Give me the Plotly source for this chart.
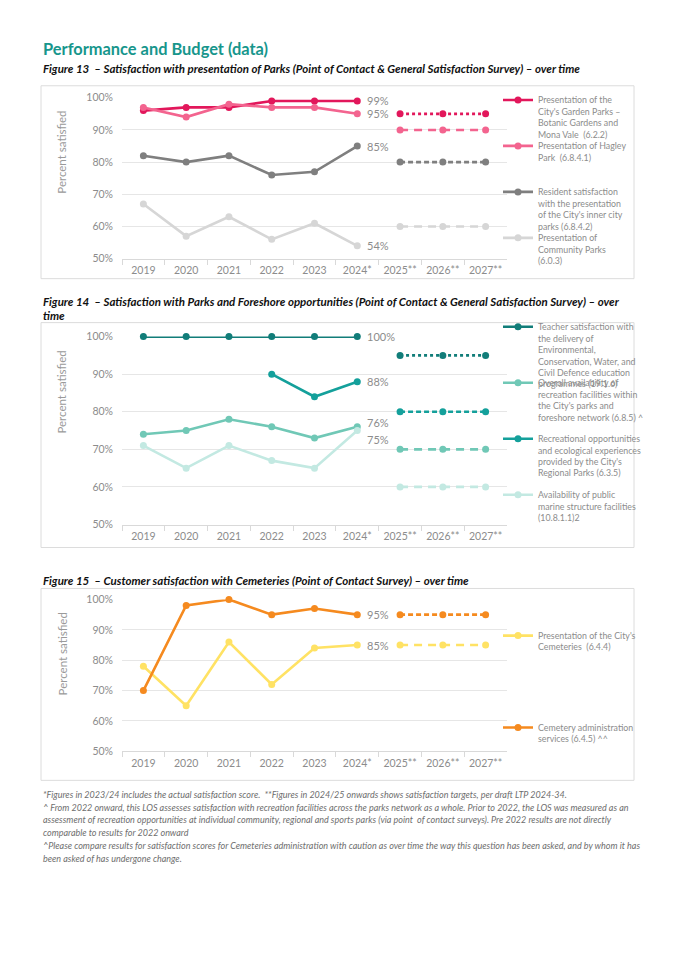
import plotly.graph_objects as go

W, H = 675, 955

# ---------------- data ----------------
categories = ["2019", "2020", "2021", "2022", "2023", "2024*", "2025**", "2026**", "2027**"]
actual_cats = categories[:6]
target_cats = categories[6:]

# Figure 13
garden_actual = [96, 97, 97, 99, 99, 99]
garden_target = [95, 95, 95]
hagley_actual = [97, 94, 98, 97, 97, 95]
hagley_target = [90, 90, 90]
inner_actual = [82, 80, 82, 76, 77, 85]
inner_target = [80, 80, 80]
community_actual = [67, 57, 63, 56, 61, 54]
community_target = [60, 60, 60]

# Figure 14
teacher_actual = [100, 100, 100, 100, 100, 100]
teacher_target = [95, 95, 95]
overall_actual = [74, 75, 78, 76, 73, 76]
overall_target = [70, 70, 70]
regional_actual = [None, None, None, 90, 84, 88]
regional_target = [80, 80, 80]
marine_actual = [71, 65, 71, 67, 65, 75]
marine_target = [60, 60, 60]

# Figure 15
cem_present_actual = [78, 65, 86, 72, 84, 85]
cem_present_target = [85, 85, 85]
cem_admin_actual = [70, 98, 100, 95, 97, 95]
cem_admin_target = [95, 95, 95]

# ---------------- helpers (reference page pixel -> paper) ----------------
VS, VOFF = 0.988, 5.2   # empirical vertical correction of the photographed page


def px(x):
    return x / W


def fy(y):
    return (y - VOFF) / VS


def py(y):
    return 1 - fy(y) / H


FONT = "Lato"
GRAY_TXT = "#8c8c8c"

fig = go.Figure()

# (subplot, legend text, actual, target, color, target dash, legend first-line y px, label yshift)
series = [
    (1, "Presentation of the<br>City's Garden Parks –<br>Botanic Gardens and<br>Mona Vale  (6.2.2)",
     garden_actual, garden_target, "#e2175b", "dot", 100, 0),
    (1, "Presentation of Hagley<br>Park  (6.8.4.1)",
     hagley_actual, hagley_target, "#f3648f", "8px,6px", 146, 0),
    (1, "Resident satisfaction<br>with the presentation<br>of the City's inner city<br>parks (6.8.4.2)",
     inner_actual, inner_target, "#7f7f7f", "5px,3px", 192, 0),
    (1, "Presentation of<br>Community Parks<br>(6.0.3)",
     community_actual, community_target, "#d6d6d6", "8px,6px", 238, 0),
    (2, "Teacher satisfaction with<br>the delivery of<br>Environmental,<br>Conservation, Water, and<br>Civil Defence education<br>programmes (19.1.6)",
     teacher_actual, teacher_target, "#117d79", "dot", 327, 0),
    (2, "Overall availability of<br>recreation facilities within<br>the City's parks and<br>foreshore network (6.8.5) ^",
     overall_actual, overall_target, "#70c8b6", "8px,6px", 383, 4),
    (2, "Recreational opportunities<br>and ecological experiences<br>provided by the City's<br>Regional Parks (6.3.5)",
     regional_actual, regional_target, "#14a09b", "5px,3px", 439, 0),
    (2, "Availability of public<br>marine structure facilities<br>(10.8.1.1)2",
     marine_actual, marine_target, "#c3e9e2", "8px,6px", 495, -9),
    (3, "Presentation of the City's<br>Cemeteries  (6.4.4)",
     cem_present_actual, cem_present_target, "#ffe264", "8px,6px", 636, 0),
    (3, "Cemetery administration<br>services (6.4.5) ^^",
     cem_admin_actual, cem_admin_target, "#f58a1f", "5px,3px", 728, 0),
]

LEG_X = 498
LEG_INNER = 13.2   # legend top -> first text line centre
layout_legends = {}
annotations = []

for i, (sp, name, act, tgt, color, dash, leg_y, lab_shift) in enumerate(series):
    xa = "x" if sp == 1 else f"x{sp}"
    ya = "y" if sp == 1 else f"y{sp}"
    leg_id = "legend" if i == 0 else f"legend{i + 1}"
    fig.add_trace(go.Scatter(
        x=actual_cats, y=act, name=name, mode="lines+markers",
        line=dict(color=color, width=2.6), marker=dict(color=color, size=7),
        xaxis=xa, yaxis=ya, legend=leg_id, cliponaxis=False,
        connectgaps=False, hoverinfo="skip"))
    fig.add_trace(go.Scatter(
        x=target_cats, y=tgt, mode="lines+markers", showlegend=False,
        line=dict(color=color, width=2.6, dash=dash), marker=dict(color=color, size=7),
        xaxis=xa, yaxis=ya, cliponaxis=False, hoverinfo="skip"))
    leg_top = fy(leg_y) - LEG_INNER
    layout_legends[leg_id] = dict(
        x=px(LEG_X), y=1 - leg_top / H, xanchor="left", yanchor="top",
        bgcolor="rgba(0,0,0,0)", borderwidth=0, valign="top",
        font=dict(family=FONT, size=8.8, color=GRAY_TXT), itemwidth=30,
        tracegroupgap=0)
    annotations.append(dict(
        x=actual_cats[-1], y=act[-1], xref=xa, yref=ya, text=f"{act[-1]}%",
        showarrow=False, xanchor="left", yanchor="middle", xshift=8, yshift=lab_shift,
        font=dict(family=FONT, size=11, color=GRAY_TXT)))

# ---------------- axes ----------------
plot_x0, plot_x1 = 122, 507
plots = [(97, 258), (336, 524), (599, 751)]
ytitle_centers = [152, 392, 654]

axis_common_x = dict(
    type="category", categoryorder="array", categoryarray=categories,
    range=[-0.5, len(categories) - 0.5], domain=[px(plot_x0), px(plot_x1)],
    showline=True, linecolor="#d9d9d9", linewidth=1, ticks="outside",
    tickson="boundaries", ticklen=5, tickcolor="#d9d9d9", showgrid=False,
    ticklabelstandoff=2,
    tickfont=dict(family=FONT, size=10.5, color=GRAY_TXT), fixedrange=True)

for k, (top, bot) in enumerate(plots, start=1):
    xk = "xaxis" if k == 1 else f"xaxis{k}"
    yk = "yaxis" if k == 1 else f"yaxis{k}"
    ya = "y" if k == 1 else f"y{k}"
    xa = "x" if k == 1 else f"x{k}"
    fig.layout[xk] = dict(axis_common_x, anchor=ya)
    fig.layout[yk] = dict(
        domain=[py(bot), py(top)], range=[50, 100], dtick=10, tick0=50,
        ticksuffix="%", showgrid=True, gridcolor="#e6e6e6", gridwidth=1,
        zeroline=False, showline=False, ticks="", anchor=xa,
        ticklabelstandoff=8,
        tickfont=dict(family=FONT, size=10.5, color=GRAY_TXT), fixedrange=True)
    annotations.append(dict(
        x=px(62), y=py(ytitle_centers[k - 1]), xref="paper", yref="paper",
        text="Percent satisfied", textangle=-90, showarrow=False,
        xanchor="center", yanchor="middle",
        font=dict(family=FONT, size=11.5, color="#9a9a9a")))

# ---------------- boxes ----------------
shapes = []
for (t, b) in [(85, 278), (322, 547), (588, 780)]:
    shapes.append(dict(type="rect", xref="paper", yref="paper",
                       x0=px(41), x1=px(634), y0=py(b), y1=py(t),
                       line=dict(color="#dcdcdc", width=1), fillcolor="rgba(0,0,0,0)",
                       layer="below"))


# ---------------- page text ----------------
def text(x, y, s, size, color, bold=False, italic=False):
    annotations.append(dict(
        x=px(x), y=py(y), xref="paper", yref="paper", text=s, showarrow=False,
        xanchor="left", yanchor="middle", align="left",
        font=dict(family=FONT, size=size, color=color,
                  weight="bold" if bold else "normal",
                  style="italic" if italic else "normal")))


CAP = 11.5
text(41, 48, "Performance and Budget (data)", 16.4, "#17968c", bold=True)
text(41, 68, "Figure 13  – Satisfaction with presentation of Parks (Point of Contact & General Satisfaction Survey) – over time",
     CAP, "#111111", bold=True, italic=True)
text(41, 301, "Figure 14  – Satisfaction with Parks and Foreshore opportunities (Point of Contact & General Satisfaction Survey) – over",
     CAP, "#111111", bold=True, italic=True)
text(41, 315, "time", CAP, "#111111", bold=True, italic=True)
text(41, 580, "Figure 15  – Customer satisfaction with Cemeteries (Point of Contact Survey) – over time",
     CAP, "#111111", bold=True, italic=True)

footnotes = [
    "*Figures in 2023/24 includes the actual satisfaction score.  **Figures in 2024/25 onwards shows satisfaction targets, per draft LTP 2024-34.",
    "^ From 2022 onward, this LOS assesses satisfaction with recreation facilities across the parks network as a whole. Prior to 2022, the LOS was measured as an",
    "assessment of recreation opportunities at individual community, regional and sports parks (via point  of contact surveys). Pre 2022 results are not directly",
    "comparable to results for 2022 onward",
    "^Please compare results for satisfaction scores for Cemeteries administration with caution as over time the way this question has been asked, and by whom it has",
    "been asked of has undergone change.",
]
for j, line in enumerate(footnotes):
    text(41, 794 + j * 12.8, line, 9.0, "#6e6e6e", italic=True)

fig.update_layout(
    width=W, height=H, margin=dict(l=0, r=0, t=0, b=0),
    paper_bgcolor="white", plot_bgcolor="white",
    annotations=annotations, shapes=shapes, hovermode=False,
    **layout_legends)

fig.write_html(
    "out.html", config={"displayModeBar": False},
    post_script="document.body.style.margin='0';document.body.style.overflow='hidden';")
